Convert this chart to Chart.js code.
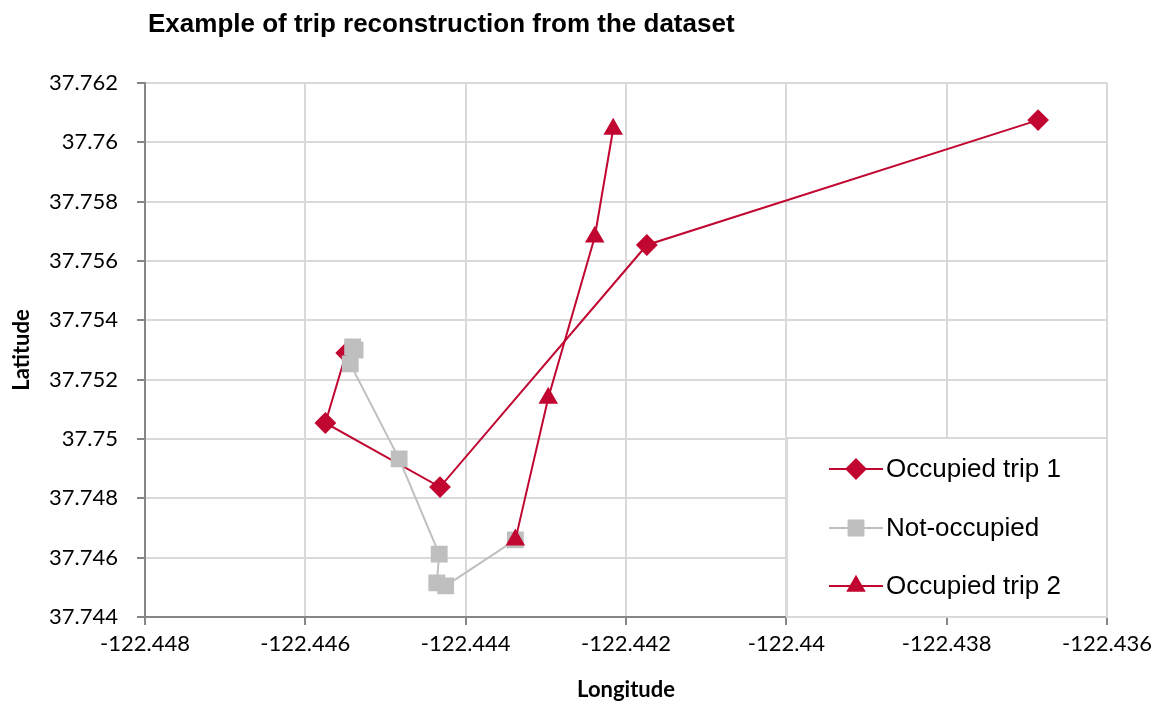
<!DOCTYPE html>
<html lang="en">
<head>
    <meta charset="UTF-8">
    <title>Trip reconstruction</title>
    <script src="https://cdn.jsdelivr.net/npm/chart.js"></script>
    <style>
        body { margin: 0; background: #fff; }
        #wrap { position: relative; width: 1165px; height: 704px; }
    </style>
</head>
<body>
    <div id="wrap"><canvas id="tripChart" width="1165" height="704"></canvas></div>

    <script>
        const seriesNames = ['Occupied trip 1', 'Not-occupied', 'Occupied trip 2'];

        const trip1Lon = [-122.44549, -122.44575, -122.44432, -122.44174, -122.43686];
        const trip1Lat = [37.75290, 37.75054, 37.74838, 37.75654, 37.76075];

        const freeLon = [-122.44541, -122.44538, -122.44544, -122.44483, -122.44433, -122.44436, -122.44425, -122.44338];
        const freeLat = [37.75310, 37.75300, 37.75253, 37.74933, 37.74612, 37.74515, 37.74505, 37.74660];

        const trip2Lon = [-122.44338, -122.44297, -122.44239, -122.44216];
        const trip2Lat = [37.74660, 37.75138, 37.75681, 37.76045];

        const xTicks = [-122.448, -122.446, -122.444, -122.442, -122.44, -122.438, -122.436];
        const yTicks = [37.744, 37.746, 37.748, 37.75, 37.752, 37.754, 37.756, 37.758, 37.76, 37.762];

        const RED = '#C00631';
        const GREY = '#BFBFBF';
        const FONT = "'Liberation Sans', Arial, sans-serif";
        const AXIS_FONT = "Lato, 'Open Sans', sans-serif";

        const toPoints = (xs, ys) => xs.map((x, i) => ({ x: x, y: ys[i] }));
        const trimNum = v => String(parseFloat(Number(v).toFixed(3)));

        // title, axis titles and the boxed legend inside the plot
        const decorations = {
            id: 'decorations',
            afterDraw(chart) {
                const c = chart.ctx;
                const area = chart.chartArea;
                c.save();
                c.fillStyle = '#000';
                c.font = 'bold 26px ' + FONT;
                c.textAlign = 'left';
                c.textBaseline = 'middle';
                c.fillText('Example of trip reconstruction from the dataset', 148, 25);

                c.font = 'bold 22px ' + AXIS_FONT;
                c.textAlign = 'center';
                c.fillText('Longitude', 626, 690);
                c.translate(22, 350);
                c.rotate(-Math.PI / 2);
                c.fillText('Latitude', 0, 0);
                c.restore();

                // legend box
                const bx = 787, by = 438, bw = area.right - 787, bh = area.bottom - 438;
                c.save();
                c.fillStyle = '#fff';
                c.fillRect(bx, by, bw, bh);
                c.strokeStyle = '#D9D9D9';
                c.lineWidth = 2;
                c.strokeRect(bx, by, bw, bh);
                const rows = [469, 528, 586];
                chart.data.datasets.forEach((ds, i) => {
                    const y = rows[i];
                    c.strokeStyle = ds.borderColor;
                    c.lineWidth = 2;
                    c.beginPath();
                    c.moveTo(829, y);
                    c.lineTo(883, y);
                    c.stroke();
                    c.fillStyle = ds.pointBackgroundColor;
                    c.strokeStyle = ds.pointBorderColor;
                    Chart.helpers.drawPoint(c, {
                        pointStyle: ds.pointStyle,
                        radius: ds.pointRadius,
                        borderWidth: 1,
                        rotation: 0
                    }, 856, y);
                    c.fillStyle = '#000';
                    c.font = '26px ' + FONT;
                    c.textAlign = 'left';
                    c.textBaseline = 'middle';
                    c.fillText(ds.label, 886, y + 1);
                });
                c.restore();
            }
        };

        const ctx = document.getElementById('tripChart').getContext('2d');
        const chart = new Chart(ctx, {
            type: 'scatter',
            data: {
                datasets: [{
                    label: seriesNames[0],
                    data: toPoints(trip1Lon, trip1Lat),
                    showLine: true,
                    borderColor: RED,
                    borderWidth: 2,
                    pointStyle: 'rectRot',
                    pointRadius: 9.5,
                    pointBackgroundColor: RED,
                    pointBorderColor: RED,
                    order: 3
                }, {
                    label: seriesNames[1],
                    data: toPoints(freeLon, freeLat),
                    showLine: true,
                    borderColor: GREY,
                    borderWidth: 2,
                    pointStyle: 'rect',
                    pointRadius: 10.5,
                    pointBackgroundColor: GREY,
                    pointBorderColor: GREY,
                    order: 2
                }, {
                    label: seriesNames[2],
                    data: toPoints(trip2Lon, trip2Lat),
                    showLine: true,
                    borderColor: RED,
                    borderWidth: 2,
                    pointStyle: 'triangle',
                    pointRadius: 9.3,
                    pointBackgroundColor: RED,
                    pointBorderColor: RED,
                    order: 1
                }]
            },
            options: {
                responsive: false,
                animation: false,
                layout: { padding: { top: 83, right: 58, bottom: 0, left: 0 } },
                elements: { line: { tension: 0 } },
                scales: {
                    x: {
                        type: 'linear',
                        min: xTicks[0],
                        max: xTicks[xTicks.length - 1],
                        afterBuildTicks: s => { s.ticks = xTicks.map(v => ({ value: v })); },
                        afterFit: s => { s.height = 87; },
                        grid: { color: '#D9D9D9', lineWidth: 2, tickLength: 8, tickColor: '#868686' },
                        border: { color: '#868686', width: 2 },
                        ticks: {
                            color: '#000',
                            font: { family: AXIS_FONT, size: 22 },
                            padding: 6,
                            maxRotation: 0,
                            callback: v => trimNum(v)
                        }
                    },
                    y: {
                        type: 'linear',
                        min: yTicks[0],
                        max: yTicks[yTicks.length - 1],
                        afterBuildTicks: s => { s.ticks = yTicks.map(v => ({ value: v })); },
                        afterFit: s => { s.width = 145; },
                        grid: { color: '#D9D9D9', lineWidth: 2, tickLength: 8, tickColor: '#868686' },
                        border: { color: '#868686', width: 2 },
                        ticks: {
                            color: '#000',
                            font: { family: AXIS_FONT, size: 22 },
                            padding: 19,
                            callback: v => trimNum(v)
                        }
                    }
                },
                plugins: {
                    legend: { display: false },
                    tooltip: { enabled: false }
                }
            },
            plugins: [decorations]
        });
    </script>
</body>
</html>
